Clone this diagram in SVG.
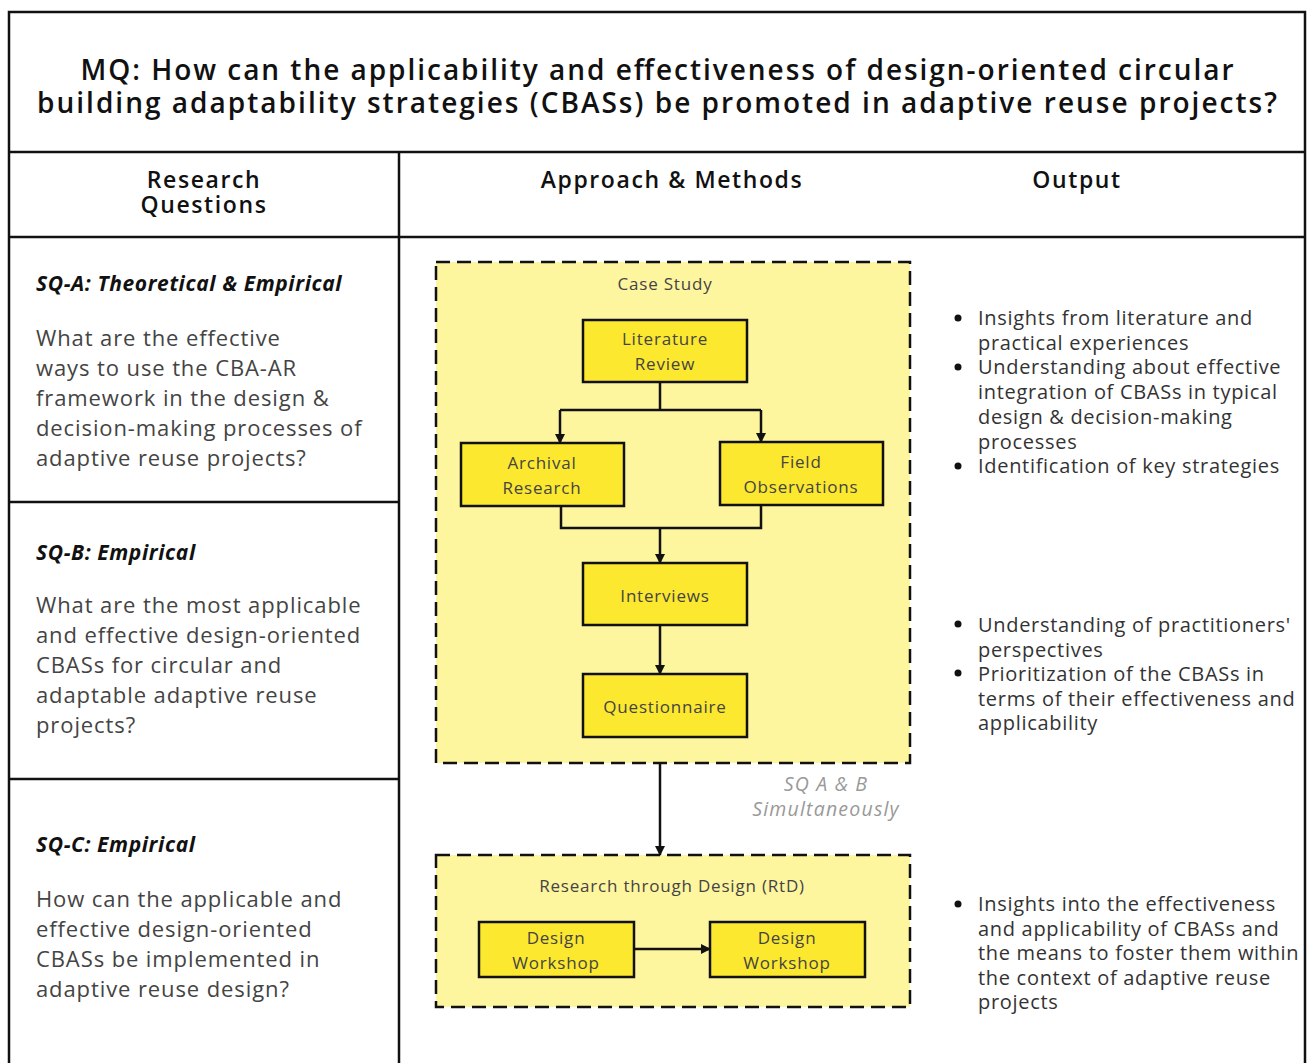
<svg xmlns="http://www.w3.org/2000/svg" width="1313" height="1063" viewBox="0 0 1313 1063">
<style>
.frame{fill:none;stroke:#111;stroke-width:2.5}
.title{font-family:"Open Sans","Liberation Sans",sans-serif;font-weight:600;font-size:28px;fill:#111;text-anchor:middle}
.hdr{font-family:"Open Sans","Liberation Sans",sans-serif;font-weight:600;font-size:23px;letter-spacing:1.6px;fill:#111;text-anchor:middle}
.sq{font-family:"Open Sans","Liberation Sans",sans-serif;font-weight:700;font-style:italic;font-size:21px;letter-spacing:0.6px;fill:#111}
.body{font-family:"Open Sans","Liberation Sans",sans-serif;font-size:22px;letter-spacing:0.9px;fill:#444}
.out{font-family:"Open Sans","Liberation Sans",sans-serif;font-size:20px;letter-spacing:0.7px;fill:#333}
.grp{fill:#FEF59F;stroke:#111;stroke-width:2.5;stroke-dasharray:14 7}
.box{fill:#FCE82E;stroke:#111;stroke-width:2.5}
.bt{font-family:"Open Sans","Liberation Sans",sans-serif;font-size:17px;letter-spacing:0.8px;fill:#444;text-anchor:middle}
.note{font-family:"Open Sans","Liberation Sans",sans-serif;font-style:italic;font-size:19.5px;letter-spacing:1.2px;fill:#999;text-anchor:middle}
.edge{fill:none;stroke:#111;stroke-width:2.5}
</style>
<defs>
<marker id="ah" markerWidth="10" markerHeight="10" refX="9" refY="5" orient="auto" markerUnits="userSpaceOnUse" viewBox="0 0 10 10">
<path d="M0,0 L10,5 L0,10 z" fill="#111"/>
</marker>
</defs>
<rect width="1313" height="1063" fill="#fff"/>
<g id="table">
<path class="frame" d="M9,1063 V12 H1305 V1063"/>
<line class="frame" x1="9" y1="152" x2="1305" y2="152"/>
<line class="frame" x1="9" y1="237" x2="1305" y2="237"/>
<line class="frame" x1="399" y1="152" x2="399" y2="1063"/>
<line class="frame" x1="9" y1="502" x2="399" y2="502"/>
<line class="frame" x1="9" y1="779" x2="399" y2="779"/>
</g>
<g id="title">
<text class="title" x="657" y="80" textLength="1153">MQ: How can the applicability and effectiveness of design-oriented circular</text>
<text class="title" x="657" y="113" textLength="1240">building adaptability strategies (CBASs) be promoted in adaptive reuse projects?</text>
</g>
<g id="headers">
<text class="hdr" x="204" y="188">Research</text>
<text class="hdr" x="204" y="213">Questions</text>
<text class="hdr" x="672" y="188">Approach &amp; Methods</text>
<text class="hdr" x="1077" y="188">Output</text>
</g>
<g id="sq-a">
<text class="sq" x="36" y="291">SQ-A: Theoretical &amp; Empirical</text>
<text class="body" x="36" y="346">What are the effective</text>
<text class="body" x="36" y="376">ways to use the CBA-AR</text>
<text class="body" x="36" y="406">framework in the design &amp;</text>
<text class="body" x="36" y="436">decision-making processes of</text>
<text class="body" x="36" y="466">adaptive reuse projects?</text>
</g>
<g id="sq-b">
<text class="sq" x="36" y="560">SQ-B: Empirical</text>
<text class="body" x="36" y="613">What are the most applicable</text>
<text class="body" x="36" y="643">and effective design-oriented</text>
<text class="body" x="36" y="673">CBASs for circular and</text>
<text class="body" x="36" y="703">adaptable adaptive reuse</text>
<text class="body" x="36" y="733">projects?</text>
</g>
<g id="sq-c">
<text class="sq" x="36" y="852">SQ-C: Empirical</text>
<text class="body" x="36" y="907">How can the applicable and</text>
<text class="body" x="36" y="937">effective design-oriented</text>
<text class="body" x="36" y="967">CBASs be implemented in</text>
<text class="body" x="36" y="997">adaptive reuse design?</text>
</g>
<g id="case-study">
<rect class="grp" x="436" y="262" width="474" height="501"/>
<text class="bt" x="665" y="290">Case Study</text>
</g>
<g id="rtd">
<rect class="grp" x="436" y="855" width="474" height="152"/>
<text class="bt" x="672" y="892">Research through Design (RtD)</text>
</g>
<g id="literature-review">
<rect class="box" x="583" y="320" width="164" height="62"/>
<text class="bt" x="665" y="345">Literature</text>
<text class="bt" x="665" y="370">Review</text>
</g>
<g id="archival-research">
<rect class="box" x="461" y="443" width="163" height="63"/>
<text class="bt" x="542" y="469">Archival</text>
<text class="bt" x="542" y="494">Research</text>
</g>
<g id="field-observations">
<rect class="box" x="720" y="442" width="163" height="63"/>
<text class="bt" x="801" y="468">Field</text>
<text class="bt" x="801" y="493">Observations</text>
</g>
<g id="interviews">
<rect class="box" x="583" y="563" width="164" height="62"/>
<text class="bt" x="665" y="602">Interviews</text>
</g>
<g id="questionnaire">
<rect class="box" x="583" y="674" width="164" height="63"/>
<text class="bt" x="665" y="713">Questionnaire</text>
</g>
<g id="design-workshop-1">
<rect class="box" x="479" y="922" width="155" height="55"/>
<text class="bt" x="556" y="944">Design</text>
<text class="bt" x="556" y="969">Workshop</text>
</g>
<g id="design-workshop-2">
<rect class="box" x="710" y="922" width="155" height="55"/>
<text class="bt" x="787" y="944">Design</text>
<text class="bt" x="787" y="969">Workshop</text>
</g>
<g id="connectors">
<path class="edge" d="M660,382 V410"/>
<path class="edge" d="M560,410 H761"/>
<path class="edge" d="M560,410 V443" marker-end="url(#ah)"/>
<path class="edge" d="M761,410 V442" marker-end="url(#ah)"/>
<path class="edge" d="M561,506 V528 H761 V505"/>
<path class="edge" d="M660,528 V563" marker-end="url(#ah)"/>
<path class="edge" d="M660,625 V674" marker-end="url(#ah)"/>
<path class="edge" d="M660,763 V855" marker-end="url(#ah)"/>
<path class="edge" d="M634,949 H710" marker-end="url(#ah)"/>
<text class="note" x="826" y="791">SQ A &amp; B</text>
<text class="note" x="826" y="816">Simultaneously</text>
</g>
<g id="outputs">
<g fill="#111">
<circle cx="958" cy="318" r="3.5"/>
<circle cx="958" cy="367" r="3.5"/>
<circle cx="958" cy="466" r="3.5"/>
<circle cx="958" cy="624" r="3.5"/>
<circle cx="958" cy="673" r="3.5"/>
<circle cx="958" cy="904" r="3.5"/>
</g>
<text class="out" x="978" y="325">Insights from literature and</text>
<text class="out" x="978" y="349.7">practical experiences</text>
<text class="out" x="978" y="374.4">Understanding about effective</text>
<text class="out" x="978" y="399.1">integration of CBASs in typical</text>
<text class="out" x="978" y="423.8">design &amp; decision-making</text>
<text class="out" x="978" y="448.5">processes</text>
<text class="out" x="978" y="473.2">Identification of key strategies</text>
<text class="out" x="978" y="632">Understanding of practitioners'</text>
<text class="out" x="978" y="656.5">perspectives</text>
<text class="out" x="978" y="681">Prioritization of the CBASs in</text>
<text class="out" x="978" y="705.5">terms of their effectiveness and</text>
<text class="out" x="978" y="730">applicability</text>
<text class="out" x="978" y="911">Insights into the effectiveness</text>
<text class="out" x="978" y="935.5">and applicability of CBASs and</text>
<text class="out" x="978" y="960">the means to foster them within</text>
<text class="out" x="978" y="984.5">the context of adaptive reuse</text>
<text class="out" x="978" y="1009">projects</text>
</g>
</svg>
